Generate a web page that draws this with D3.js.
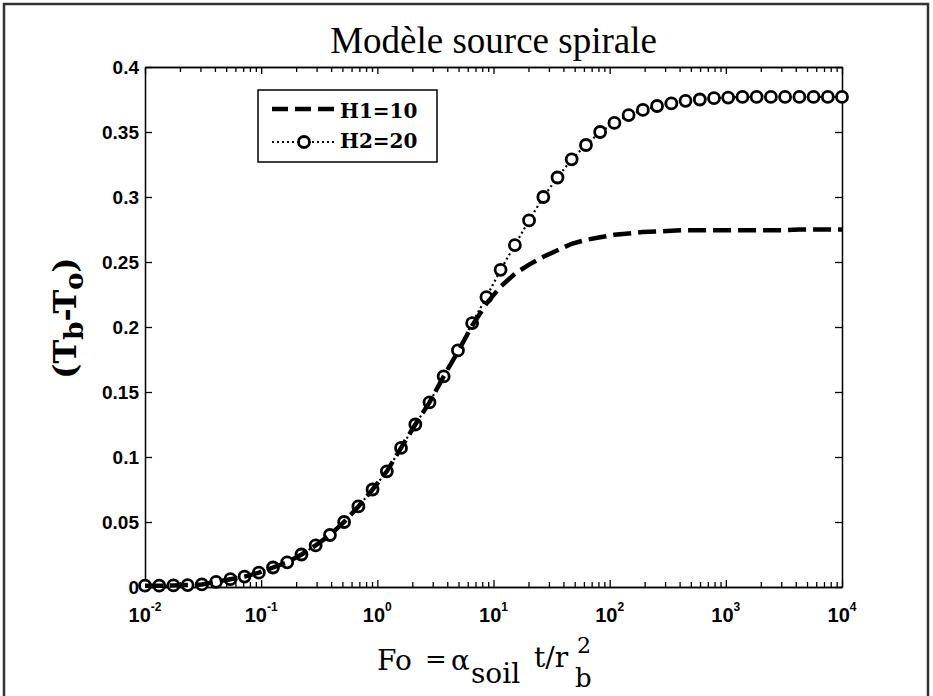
<!DOCTYPE html>
<html>
<head>
<meta charset="utf-8">
<script src="https://cdn.jsdelivr.net/npm/d3@7"></script>
<style>
  html, body { margin: 0; padding: 0; background: #fff; }
  svg { display: block; }
</style>
</head>
<body>
<svg id="chart" width="933" height="696"></svg>
<script>
// ---- data ----
const chartTitle = "Modèle source spirale";
// log10(Fo) of the 50 sample points
const foExp = [-2.000,-1.878,-1.755,-1.633,-1.510,-1.388,-1.265,-1.143,-1.020,-0.898,
               -0.776,-0.653,-0.531,-0.408,-0.286,-0.163,-0.041,0.082,0.204,0.327,
               0.449,0.571,0.694,0.816,0.939,1.061,1.184,1.306,1.429,1.551,
               1.673,1.796,1.918,2.041,2.163,2.286,2.408,2.531,2.653,2.776,
               2.898,3.020,3.143,3.265,3.388,3.510,3.633,3.755,3.878,4.000];
const h1Values = [0.001,0.001,0.0012,0.0015,0.002,0.004,0.006,0.008,0.011,0.015,
                  0.019,0.025,0.032,0.040,0.050,0.062,0.075,0.089,0.107,0.125,
                  0.142,0.162,0.181,0.201,0.218,0.231,0.241,0.248,0.254,0.259,
                  0.264,0.267,0.269,0.271,0.272,0.273,0.2735,0.274,0.2745,0.2745,
                  0.2745,0.2745,0.2745,0.2745,0.2745,0.2745,0.275,0.275,0.275,0.275];
const h2Values = [0.001,0.001,0.0012,0.0015,0.002,0.004,0.006,0.008,0.011,0.015,
                  0.019,0.025,0.032,0.040,0.050,0.062,0.075,0.089,0.107,0.125,
                  0.142,0.162,0.182,0.203,0.223,0.244,0.263,0.282,0.300,0.315,
                  0.329,0.340,0.350,0.357,0.363,0.367,0.370,0.372,0.374,0.375,
                  0.376,0.3765,0.377,0.377,0.377,0.377,0.377,0.377,0.377,0.377];
const seriesNames = ["H1=10", "H2=20"];
const yTickValues = [0,0.05,0.1,0.15,0.2,0.25,0.3,0.35,0.4];
const yTickLabels = ["0","0.05","0.1","0.15","0.2","0.25","0.3","0.35","0.4"];
const xDecades = [-2,-1,0,1,2,3,4];
const xDecadeLabels = ["-2","-1","0","1","2","3","4"];

// ---- layout ----
const svg = d3.select("#chart");
const L = 145, R = 842, T = 67, B = 587;

// outer frame
svg.append("rect").attr("x",4).attr("y",4).attr("width",924).attr("height",710)
  .attr("fill","none").attr("stroke","#333").attr("stroke-width",2.5);

const x = d3.scaleLog().domain([1e-2,1e4]).range([L,R]);
const y = d3.scaleLinear().domain([0,0.4]).range([B,T]);

const pts = (vals) => foExp.map((e,i) => ({fo: Math.pow(10,e), v: vals[i]}));
const d1 = pts(h1Values), d2 = pts(h2Values);

// axes
const minorTicks = [];
for (let k = -2; k < 4; k++) for (let m = 2; m <= 9; m++) minorTicks.push(m*Math.pow(10,k));
const majorTicks = xDecades.map(e => Math.pow(10,e));

function styleAxis(g){
  g.select(".domain").attr("stroke","#000").attr("stroke-width",1.5);
  g.selectAll(".tick line").attr("stroke","#000").attr("stroke-width",1.3);
}
svg.append("g").attr("transform",`translate(0,${B})`)
  .call(d3.axisBottom(x).tickValues(majorTicks).tickSizeInner(-7).tickSizeOuter(0).tickFormat(""))
  .call(styleAxis);
svg.append("g").attr("transform",`translate(0,${B})`)
  .call(d3.axisBottom(x).tickValues(minorTicks).tickSizeInner(-5).tickSizeOuter(0).tickFormat(""))
  .call(styleAxis);
svg.append("g").attr("transform",`translate(0,${T})`)
  .call(d3.axisTop(x).tickValues(majorTicks).tickSizeInner(-7).tickSizeOuter(0).tickFormat(""))
  .call(styleAxis);
svg.append("g").attr("transform",`translate(0,${T})`)
  .call(d3.axisTop(x).tickValues(minorTicks).tickSizeInner(-5).tickSizeOuter(0).tickFormat(""))
  .call(styleAxis);
const yl = svg.append("g").attr("transform",`translate(${L},0)`)
  .call(d3.axisLeft(y).tickValues(yTickValues).tickSizeInner(-7).tickSizeOuter(0).tickPadding(6)
        .tickFormat((d,i) => yTickLabels[i]))
  .call(styleAxis);
yl.selectAll(".tick text").attr("font-family","'Liberation Sans', Arial, sans-serif")
  .attr("font-weight","bold").attr("font-size",19).attr("fill","#000");
svg.append("g").attr("transform",`translate(${R},0)`)
  .call(d3.axisRight(y).tickValues(yTickValues).tickSizeInner(-7).tickSizeOuter(0).tickFormat(""))
  .call(styleAxis);

// x tick labels 10^k
const xl = svg.append("g");
xDecades.forEach((e,i) => {
  const t = xl.append("text").attr("x", x(Math.pow(10,e))).attr("y", 622)
    .attr("text-anchor","middle")
    .attr("font-family","'Liberation Sans', Arial, sans-serif").attr("font-weight","bold")
    .attr("fill","#000");
  t.append("tspan").attr("font-size",20).text("10");
  t.append("tspan").attr("font-size",12).attr("dy",-11).text(xDecadeLabels[i]);
});

// series
const line = d3.line().x(d => x(d.fo)).y(d => y(d.v));
const plot = svg.append("g");
plot.append("path").datum(d2).attr("d",line).attr("fill","none").attr("stroke","#000")
  .attr("stroke-width",2.2).attr("stroke-dasharray","2,3");
plot.selectAll("circle.h2").data(d2).enter().append("circle").attr("class","h2")
  .attr("cx",d => x(d.fo)).attr("cy",d => y(d.v)).attr("r",5.5)
  .attr("fill","#fff").attr("stroke","#000").attr("stroke-width",2.8);
plot.append("path").datum(d1).attr("d",line).attr("fill","none").attr("stroke","#000")
  .attr("stroke-width",4.5).attr("stroke-dasharray","18,7");

// legend
const lg = svg.append("g");
lg.append("rect").attr("x",258).attr("y",90).attr("width",179).attr("height",72)
  .attr("fill","#fff").attr("stroke","#000").attr("stroke-width",1.5);
lg.append("line").attr("x1",272).attr("x2",337).attr("y1",109).attr("y2",109)
  .attr("stroke","#000").attr("stroke-width",4.5).attr("stroke-dasharray","16,7");
lg.append("line").attr("x1",272).attr("x2",337).attr("y1",142).attr("y2",142)
  .attr("stroke","#000").attr("stroke-width",2.2).attr("stroke-dasharray","2,3");
lg.append("circle").attr("cx",304).attr("cy",142).attr("r",5.5)
  .attr("fill","#fff").attr("stroke","#000").attr("stroke-width",2.8);
seriesNames.forEach((n,i) => {
  lg.append("text").attr("x",340).attr("y",118 + i*30)
    .attr("font-family","'DejaVu Serif', serif").attr("font-weight","bold")
    .attr("font-size",20).attr("fill","#000").text(n);
});

// title
svg.append("text").attr("x",(L+R)/2).attr("y",53).attr("text-anchor","middle")
  .attr("font-family","'Liberation Serif', 'Times New Roman', serif")
  .attr("font-size",37).attr("fill","#000").text(chartTitle);

// x label: Fo = α_soil t/r_b^2  (one text element with positioned tspans)
const xt = svg.append("text").attr("font-family","'DejaVu Serif', serif").attr("fill","#000")
  .attr("font-size",28);
xt.append("tspan").attr("x",377).attr("y",670).text("Fo");
xt.append("tspan").attr("x",425).attr("y",668).attr("font-size",26).text("=");
xt.append("tspan").attr("x",451).attr("y",670).text("α");
xt.append("tspan").attr("x",471).attr("y",683).text("soil");
xt.append("tspan").attr("x",534).attr("y",667).text("t/r");
xt.append("tspan").attr("x",577).attr("y",653).attr("font-size",22).text("2");
xt.append("tspan").attr("x",575).attr("y",687).attr("font-size",26).text("b");

// y label: (T_b - T_o)
const ylab = svg.append("g").attr("transform","translate(76,318) rotate(-90)")
  .attr("font-family","'DejaVu Serif', serif").attr("font-weight","bold").attr("fill","#000");
const yt = ylab.append("text").attr("text-anchor","middle").attr("font-size",32);
yt.append("tspan").text("(T");
yt.append("tspan").attr("font-size",26).attr("dy",7).text("b");
yt.append("tspan").attr("dy",-7).text("-T");
yt.append("tspan").attr("font-size",26).attr("dy",7).text("o");
yt.append("tspan").attr("dy",-7).text(")");
</script>
</body>
</html>
